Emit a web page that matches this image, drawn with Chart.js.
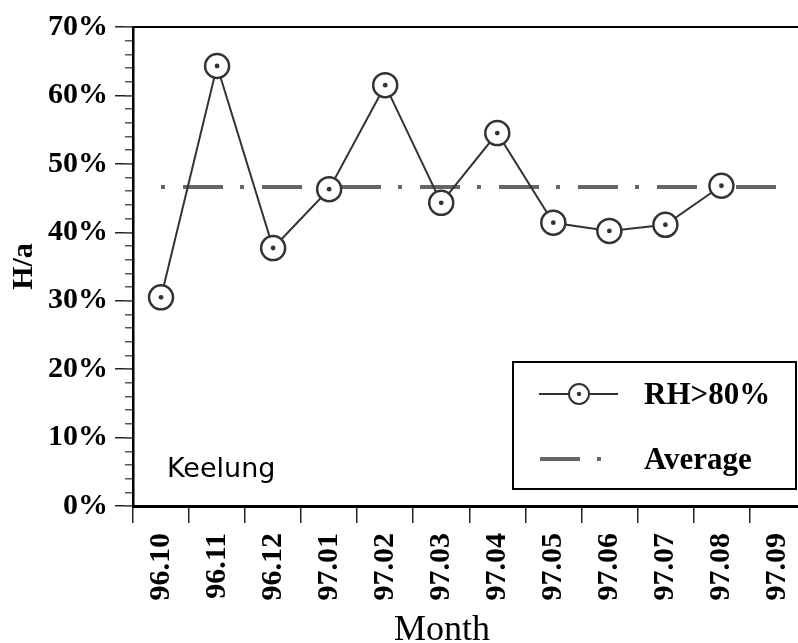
<!DOCTYPE html>
<html>
<head>
<meta charset="utf-8">
<script src="https://cdn.jsdelivr.net/npm/chart.js@4.4.1/dist/chart.umd.min.js"></script>
<style>
  html, body { margin: 0; padding: 0; background: #fff; overflow: hidden; }
  canvas { display: block; }
</style>
</head>
<body>
<canvas id="chart" width="820" height="643"></canvas>
<script>
// monthly share of hours with RH > 80%, Keelung station
const months = ['96.10', '96.11', '96.12', '97.01', '97.02', '97.03',
                '97.04', '97.05', '97.06', '97.07', '97.08', '97.09'];
const rhShare = [30.5, 64.3, 37.7, 46.3, 61.5, 44.3, 54.5, 41.4, 40.2, 41.1, 46.8, null];
const averageShare = 46.6;
const yTicks = [0, 10, 20, 30, 40, 50, 60, 70];

const serif = 'Liberation Serif, Times New Roman, serif';
const lineColor = '#333';
const avgColor = '#666';
const avgDash = [40, 17, 4, 18];

// frame round the plot, axis caption, station name and boxed legend
const decorations = {
    id: 'decorations',
    afterDatasetsDraw(chart) {
        const { ctx, chartArea: a } = chart;
        ctx.save();
        ctx.strokeStyle = '#000';
        ctx.lineWidth = 2;
        ctx.strokeRect(a.left, a.top, a.right - a.left, a.bottom - a.top);

        ctx.fillStyle = '#000';
        ctx.textBaseline = 'alphabetic';
        ctx.textAlign = 'center';
        ctx.font = '36px ' + serif;
        ctx.fillText('Month', 442, 640);

        ctx.textAlign = 'left';
        ctx.font = '27px "DejaVu Sans", sans-serif';
        ctx.fillText('Keelung', 167, 477);

        // legend box
        ctx.fillStyle = '#fff';
        ctx.fillRect(513, 362, 283, 127);
        ctx.lineWidth = 2;
        ctx.strokeStyle = '#000';
        ctx.strokeRect(513, 362, 283, 127);

        // RH>80% entry
        ctx.strokeStyle = lineColor;
        ctx.lineWidth = 2;
        ctx.beginPath();
        ctx.moveTo(539, 394);
        ctx.lineTo(618, 394);
        ctx.stroke();
        ctx.beginPath();
        ctx.arc(579, 394, 10, 0, Math.PI * 2);
        ctx.fillStyle = '#fff';
        ctx.fill();
        ctx.stroke();
        ctx.beginPath();
        ctx.arc(579, 394, 2.2, 0, Math.PI * 2);
        ctx.fillStyle = '#333';
        ctx.fill();

        // Average entry
        ctx.strokeStyle = avgColor;
        ctx.lineWidth = 4;
        ctx.setLineDash(avgDash);
        ctx.beginPath();
        ctx.moveTo(540, 459);
        ctx.lineTo(618, 459);
        ctx.stroke();
        ctx.setLineDash([]);

        ctx.fillStyle = '#000';
        ctx.font = 'bold 31px ' + serif;
        ctx.fillText('RH>80%', 644, 404);
        ctx.fillText('Average', 644, 469);
        ctx.restore();
    }
};

new Chart(document.getElementById('chart'), {
    type: 'line',
    data: {
        labels: months,
        datasets: [
            {
                label: 'Average',
                data: months.map(() => averageShare),
                borderColor: avgColor,
                borderWidth: 4,
                borderDash: avgDash,
                borderDashOffset: 57,
                pointRadius: 0,
                fill: false,
                order: 3
            },
            {
                label: 'RH>80%',
                data: rhShare,
                borderColor: lineColor,
                borderWidth: 2,
                pointRadius: 12,
                pointBorderWidth: 2.5,
                pointBorderColor: lineColor,
                pointBackgroundColor: '#fff',
                spanGaps: false,
                fill: false,
                tension: 0,
                order: 2
            },
            {
                // centre dot of each marker
                label: 'centre',
                data: rhShare,
                showLine: false,
                pointRadius: 2.4,
                pointBorderWidth: 0,
                pointBackgroundColor: '#333',
                order: 1
            }
        ]
    },
    options: {
        responsive: false,
        animation: false,
        events: [],
        layout: { padding: { top: 27, right: 2, left: 0, bottom: 0 } },
        plugins: {
            legend: { display: false },
            tooltip: { enabled: false }
        },
        scales: {
            x: {
                type: 'category',
                offset: true,
                grid: {
                    offset: true,
                    drawOnChartArea: false,
                    tickLength: 17,
                    color: '#222',
                    lineWidth: 1.5
                },
                border: { display: true, color: '#000', width: 3 },
                ticks: {
                    minRotation: 90,
                    maxRotation: 90,
                    autoSkip: false,
                    padding: 10,
                    color: '#000',
                    font: { family: serif, size: 30, weight: 'bold' }
                },
                afterFit(scale) {
                    scale.height = 137;
                    scale.paddingLeft = 0;
                    scale.paddingRight = 0;
                }
            },
            y: {
                min: 0,
                max: 70,
                weight: 1,
                afterBuildTicks(scale) { scale.ticks = yTicks.map(v => ({ value: v })); },
                grid: {
                    drawOnChartArea: false,
                    tickLength: 18,
                    color: '#222',
                    lineWidth: 1.5
                },
                border: { display: true, color: '#000', width: 2.5 },
                ticks: {
                    padding: 7,
                    color: '#000',
                    font: { family: serif, size: 30, weight: 'bold' },
                    callback: v => v + '%'
                },
                title: {
                    display: true,
                    text: 'H/a',
                    color: '#000',
                    padding: { top: 6, bottom: 0 },
                    font: { family: serif, size: 30, weight: 'bold', lineHeight: 1.2 }
                },
                afterFit(scale) { scale.width = 133; }
            },
            yMinor: {
                position: 'left',
                min: 0,
                max: 70,
                weight: 0,
                ticks: { display: false, stepSize: 2 },
                grid: {
                    drawOnChartArea: false,
                    tickLength: 8,
                    color: '#555',
                    lineWidth: 1.5
                },
                border: { display: false },
                afterFit(scale) { scale.width = 0; }
            }
        }
    },
    plugins: [decorations]
});
</script>
</body>
</html>
